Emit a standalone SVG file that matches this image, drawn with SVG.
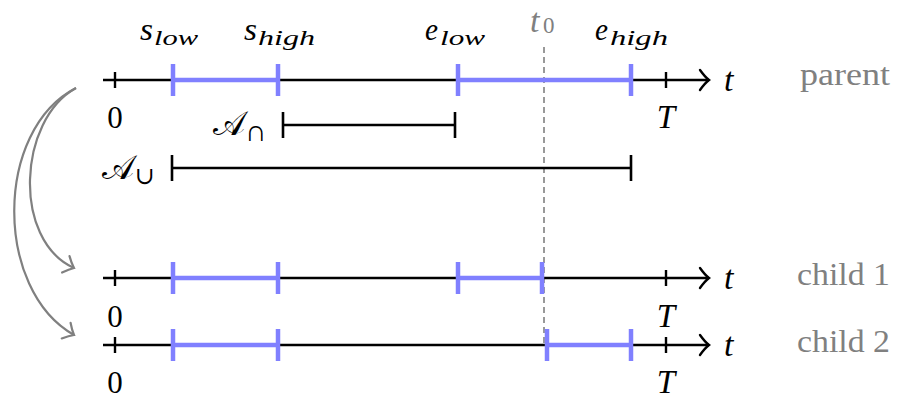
<svg xmlns="http://www.w3.org/2000/svg" width="897" height="400" viewBox="0 0 897 400">
  <defs>
    <style>
      .axis { stroke: #000; stroke-width: 2.6; fill: none; }
      .tick { stroke: #000; stroke-width: 2.4; }
      .iv { stroke: #8080ff; stroke-width: 4.5; fill: none; }
      .bar { stroke: #000; stroke-width: 2.6; fill: none; }
      .math { font-family: "Liberation Serif", "DejaVu Serif", serif; font-style: italic; fill: #000; }
      .num { font-family: "Liberation Serif", "DejaVu Serif", serif; fill: #000; font-size: 31px; }
      .cal { font-family: "DejaVu Serif", "Noto Sans CJK SC", serif; fill: #000; font-size: 34px; }
      .op { font-family: "Liberation Serif", "DejaVu Serif", serif; font-size: 30px; fill: #000; }
      .gray { font-family: "Liberation Serif", "DejaVu Serif", serif; fill: #808080; font-size: 31px; }
      .link { stroke: #808080; stroke-width: 2.2; fill: none; }
    </style>
    <marker id="to" markerWidth="16" markerHeight="24" refX="11" refY="12" orient="auto" markerUnits="userSpaceOnUse">
      <path d="M 2,2 Q 7,9 11,12 Q 7,15 2,22" stroke="#000" stroke-width="2.4" fill="none" stroke-linecap="round"/>
    </marker>
    <marker id="toGray" markerWidth="16" markerHeight="24" refX="11" refY="12" orient="auto" markerUnits="userSpaceOnUse">
      <path d="M 2,3 Q 7,9 11,12 Q 7,15 2,21" stroke="#808080" stroke-width="2.2" fill="none" stroke-linecap="round"/>
    </marker>
  </defs>

  <!-- split time t0 -->
  <g id="t0-line">
    <line x1="544" y1="47" x2="544" y2="346" stroke="#808080" stroke-width="1.6" stroke-dasharray="6,4"/>
    <text class="math" x="530" y="32" font-size="34" style="fill:#808080">t</text>
    <text class="num" x="543" y="33" style="fill:#808080;font-size:23px">0</text>
  </g>

  <!-- parent timeline -->
  <g id="parent">
    <line class="axis" x1="103" y1="80" x2="709" y2="80" marker-end="url(#to)"/>
    <line class="tick" x1="115" y1="72" x2="115" y2="88"/>
    <line class="tick" x1="666" y1="72" x2="666" y2="88"/>
    <line class="iv" x1="173" y1="80" x2="278" y2="80"/>
    <line class="iv" x1="458" y1="80" x2="631" y2="80"/>
    <line class="iv" x1="173" y1="64" x2="173" y2="96"/>
    <line class="iv" x1="278" y1="64" x2="278" y2="96"/>
    <line class="iv" x1="458" y1="64" x2="458" y2="96"/>
    <line class="iv" x1="631" y1="64" x2="631" y2="96"/>
    <text class="num" x="115" y="128" text-anchor="middle">0</text>
    <text class="math" x="666" y="128" font-size="33" text-anchor="middle">T</text>
    <text class="math" x="724" y="91" font-size="34">t</text>
    <text class="gray" x="800" y="85" textLength="90" lengthAdjust="spacingAndGlyphs">parent</text>
    <!-- interval bounds -->
    <text class="math" x="140" y="40" font-size="32" textLength="13" lengthAdjust="spacingAndGlyphs">s</text>
    <text class="math" x="154" y="45" font-size="21" textLength="44" lengthAdjust="spacingAndGlyphs">low</text>
    <text class="math" x="244" y="40" font-size="32" textLength="13" lengthAdjust="spacingAndGlyphs">s</text>
    <text class="math" x="258" y="45" font-size="21" textLength="57" lengthAdjust="spacingAndGlyphs">high</text>
    <text class="math" x="425" y="40" font-size="32" textLength="13" lengthAdjust="spacingAndGlyphs">e</text>
    <text class="math" x="440" y="45" font-size="21" textLength="45" lengthAdjust="spacingAndGlyphs">low</text>
    <text class="math" x="595" y="40" font-size="32" textLength="13" lengthAdjust="spacingAndGlyphs">e</text>
    <text class="math" x="610" y="45" font-size="21" textLength="58" lengthAdjust="spacingAndGlyphs">high</text>
  </g>

  <!-- intersection / union of the parent intervals -->
  <g id="a-cap">
    <line class="bar" x1="283" y1="125" x2="455" y2="125"/>
    <line class="bar" x1="283" y1="112" x2="283" y2="138"/>
    <line class="bar" x1="455" y1="112" x2="455" y2="138"/>
    <text class="cal" x="213" y="135">𝒜</text>
    <text class="op" x="245" y="141">∩</text>
  </g>
  <g id="a-cup">
    <line class="bar" x1="172" y1="168" x2="631" y2="168"/>
    <line class="bar" x1="172" y1="155" x2="172" y2="181"/>
    <line class="bar" x1="631" y1="155" x2="631" y2="181"/>
    <text class="cal" x="102" y="179">𝒜</text>
    <text class="op" x="135" y="184" style="font-size:24px">∪</text>
  </g>

  <!-- child 1 timeline -->
  <g id="child1">
    <line class="axis" x1="103" y1="278" x2="709" y2="278" marker-end="url(#to)"/>
    <line class="tick" x1="115" y1="270" x2="115" y2="286"/>
    <line class="tick" x1="666" y1="270" x2="666" y2="286"/>
    <line class="iv" x1="173" y1="278" x2="278" y2="278"/>
    <line class="iv" x1="458" y1="278" x2="542" y2="278"/>
    <line class="iv" x1="173" y1="262" x2="173" y2="294"/>
    <line class="iv" x1="278" y1="262" x2="278" y2="294"/>
    <line class="iv" x1="458" y1="262" x2="458" y2="294"/>
    <line class="iv" x1="542" y1="262" x2="542" y2="294"/>
    <text class="num" x="115" y="327" text-anchor="middle">0</text>
    <text class="math" x="666" y="327" font-size="33" text-anchor="middle">T</text>
    <text class="math" x="724" y="289" font-size="34">t</text>
    <text class="gray" x="797" y="285" textLength="93" lengthAdjust="spacingAndGlyphs">child 1</text>
  </g>

  <!-- child 2 timeline -->
  <g id="child2">
    <line class="axis" x1="103" y1="345" x2="709" y2="345" marker-end="url(#to)"/>
    <line class="tick" x1="115" y1="337" x2="115" y2="353"/>
    <line class="tick" x1="666" y1="337" x2="666" y2="353"/>
    <line class="iv" x1="173" y1="345" x2="278" y2="345"/>
    <line class="iv" x1="547" y1="345" x2="631" y2="345"/>
    <line class="iv" x1="173" y1="329" x2="173" y2="361"/>
    <line class="iv" x1="278" y1="329" x2="278" y2="361"/>
    <line class="iv" x1="547" y1="329" x2="547" y2="361"/>
    <line class="iv" x1="631" y1="329" x2="631" y2="361"/>
    <text class="num" x="115" y="393" text-anchor="middle">0</text>
    <text class="math" x="666" y="393" font-size="33" text-anchor="middle">T</text>
    <text class="math" x="724" y="356" font-size="34">t</text>
    <text class="gray" x="797" y="352" textLength="93" lengthAdjust="spacingAndGlyphs">child 2</text>
  </g>

  <!-- parent to children links -->
  <g id="connectors">
    <path class="link" d="M 76,88 C 18,120 12,240 74,268" marker-end="url(#toGray)"/>
    <path class="link" d="M 76,88 C -6,130 -6,290 74,335" marker-end="url(#toGray)"/>
  </g>
</svg>
